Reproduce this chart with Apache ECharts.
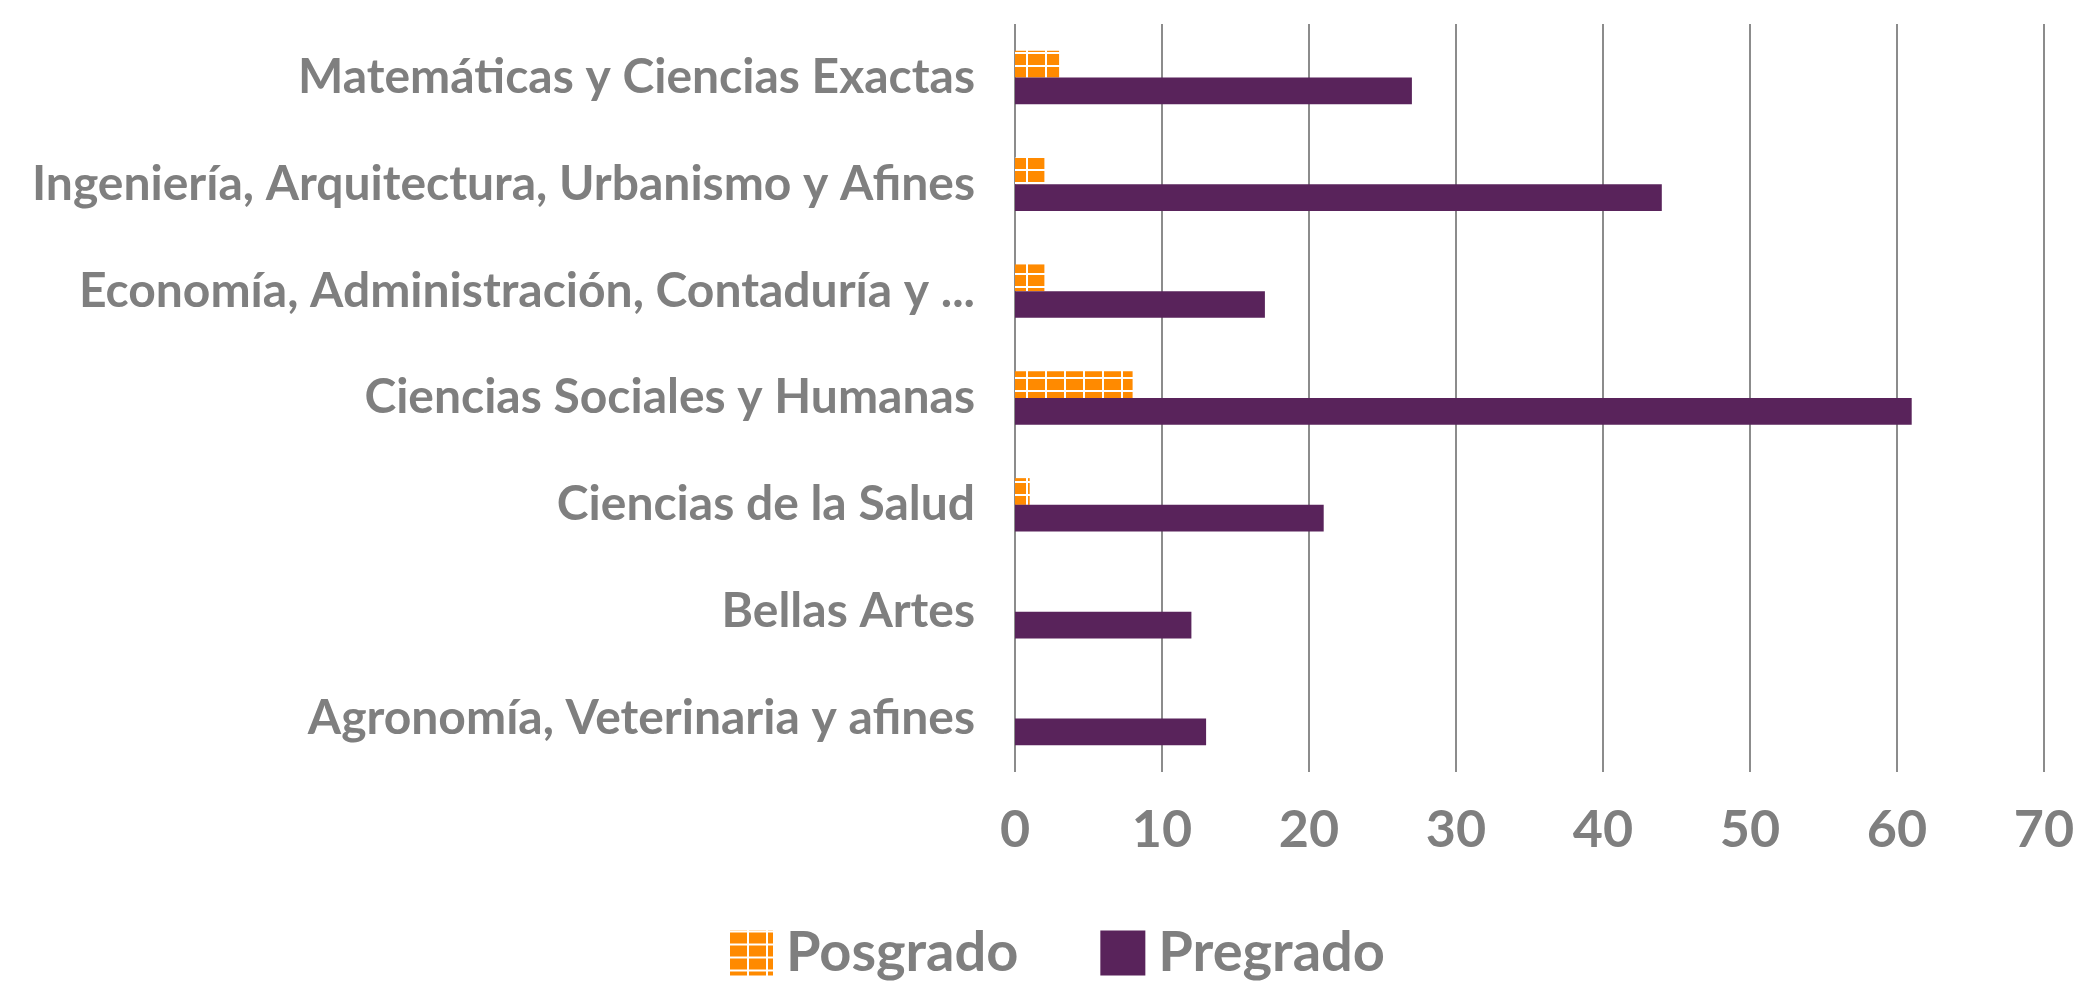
<!DOCTYPE html>
<html>
<head>
<meta charset="utf-8">
<script src="https://cdn.jsdelivr.net/npm/echarts@6/dist/echarts.min.js"></script>
<style>
  html, body { margin: 0; padding: 0; background: #fff; }
</style>
</head>
<body>
<div id="main" style="width: 2080px; height: 990px"></div>
<script>
const categories = [
  'Matemáticas y Ciencias Exactas',
  'Ingeniería, Arquitectura, Urbanismo y Afines',
  'Economía, Administración, Contaduría y ...',
  'Ciencias Sociales y Humanas',
  'Ciencias de la Salud',
  'Bellas Artes',
  'Agronomía, Veterinaria y afines'
];
const posgrado = [3, 2, 2, 8, 1, 0, 0];
const pregrado = [27, 44, 17, 61, 21, 12, 13];
const xTicks = { min: 0, max: 70, interval: 10 };

// orange grid pattern for Posgrado
function gridPattern() {
  const c = document.createElement('canvas');
  c.width = 19;
  c.height = 13;
  const ctx = c.getContext('2d');
  ctx.fillStyle = '#ff8a00';
  ctx.fillRect(0, 0, 19, 13);
  ctx.fillStyle = '#ffffff';
  ctx.fillRect(0, 0, 2, 13);
  ctx.fillRect(0, 0, 19, 2);
  return c;
}

const myChart = echarts.init(document.getElementById('main'));
myChart.setOption({
  animation: false,
  textStyle: { fontFamily: 'Lato' },
  grid: { left: 1015, right: 36, top: 24, bottom: 218, outerBoundsMode: 'none', containLabel: false },
  legend: {
    left: 723,
    bottom: 4,
    icon: 'rect',
    itemWidth: 45,
    itemHeight: 45,
    itemGap: 82,
    textStyle: { color: '#7f7f7f', fontSize: 56, fontWeight: 'bold', fontFamily: 'Lato', padding: [0, 0, 0, 8] },
    data: ['Posgrado', 'Pregrado']
  },
  xAxis: {
    type: 'value',
    min: xTicks.min,
    max: xTicks.max,
    interval: xTicks.interval,
    axisLine: { show: false },
    axisTick: { show: false },
    splitLine: { lineStyle: { color: '#8c8c8c', width: 2 } },
    axisLabel: { color: '#7f7f7f', fontSize: 52, fontWeight: 'bold', margin: 32 }
  },
  yAxis: {
    type: 'category',
    inverse: true,
    data: categories,
    axisLine: { show: false },
    axisTick: { show: false },
    axisLabel: { color: '#7f7f7f', fontSize: 48, fontWeight: 'bold', margin: 40 }
  },
  series: [
    {
      name: 'Posgrado',
      type: 'bar',
      data: posgrado,
      barGap: 0,
      barCategoryGap: '50%',
      itemStyle: { color: { image: gridPattern(), repeat: 'repeat' } }
    },
    {
      name: 'Pregrado',
      type: 'bar',
      data: pregrado,
      itemStyle: { color: '#59235b' }
    }
  ]
});
</script>
</body>
</html>
